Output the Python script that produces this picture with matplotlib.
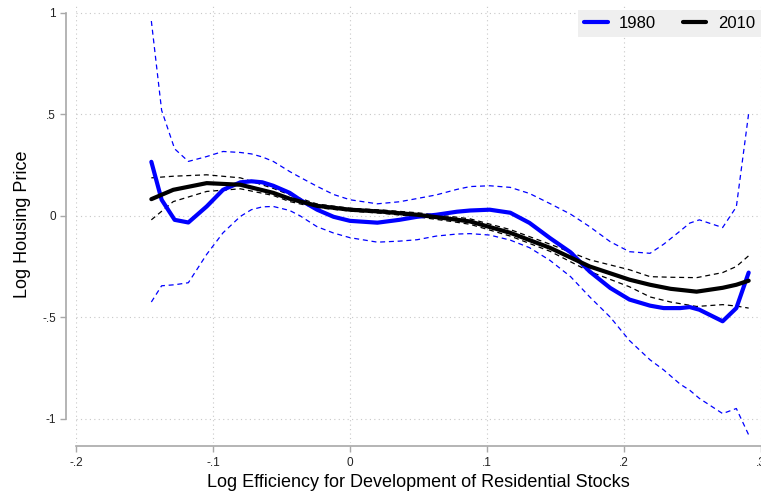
import matplotlib.pyplot as plt
import numpy as np

plt.rcParams['font.family'] = ['Liberation Sans', 'DejaVu Sans']

## === 1980: fit and 95% band ===
x80 = [-0.145, -0.1375, -0.128, -0.118, -0.1046, -0.0927, -0.08, -0.072, -0.064,
       -0.056, -0.044, -0.0365, -0.024, -0.012, 0.0, 0.02, 0.036, 0.049, 0.063,
       0.078, 0.0876, 0.102, 0.117, 0.131, 0.146, 0.161, 0.175, 0.19, 0.204,
       0.219, 0.229, 0.241, 0.248, 0.255, 0.272, 0.282, 0.291]
y80 = [0.266, 0.079, -0.02, -0.033, 0.046, 0.128, 0.165, 0.17, 0.165,
       0.148, 0.113, 0.079, 0.03, -0.005, -0.025, -0.034, -0.02, -0.005, 0.005,
       0.02, 0.026, 0.03, 0.015, -0.035, -0.11, -0.18, -0.275, -0.356, -0.413,
       -0.443, -0.455, -0.455, -0.45, -0.463, -0.52, -0.455, -0.28]
hi80 = [0.96, 0.52, 0.33, 0.268, 0.292, 0.317, 0.312, 0.305, 0.29,
        0.268, 0.218, 0.19, 0.145, 0.105, 0.079, 0.059, 0.069, 0.085, 0.103,
        0.13, 0.144, 0.148, 0.14, 0.11, 0.06, 0.008, -0.054, -0.128, -0.177,
        -0.185, -0.14, -0.075, -0.036, -0.02, -0.058, 0.044, 0.505]
lo80 = [-0.425, -0.345, -0.34, -0.33, -0.19, -0.084, -0.003, 0.03, 0.044,
        0.046, 0.026, 0.0, -0.054, -0.085, -0.108, -0.13, -0.125, -0.118, -0.1,
        -0.09, -0.088, -0.095, -0.12, -0.157, -0.22, -0.30, -0.40, -0.50, -0.615,
        -0.71, -0.76, -0.83, -0.86, -0.90, -0.975, -0.95, -1.08]

## === 2010: fit and 95% band ===
x10 = [-0.145, -0.129, -0.1046, -0.08, -0.056, -0.044, -0.024, 0.0, 0.024,
       0.049, 0.073, 0.0876, 0.117, 0.146, 0.175, 0.204, 0.219, 0.234, 0.253,
       0.272, 0.282, 0.291]
y10 = [0.082, 0.128, 0.161, 0.153, 0.113, 0.084, 0.049, 0.03, 0.02,
       0.005, -0.015, -0.028, -0.084, -0.158, -0.25, -0.315, -0.34, -0.36, -0.374,
       -0.355, -0.34, -0.32]
hi10 = [0.187, 0.195, 0.202, 0.187, 0.135, 0.103, 0.058, 0.037, 0.028,
        0.015, -0.003, -0.015, -0.068, -0.14, -0.217, -0.266, -0.30, -0.303, -0.305,
        -0.28, -0.25, -0.197]
lo10 = [-0.02, 0.07, 0.12, 0.133, 0.10, 0.07, 0.04, 0.023, 0.012,
        -0.005, -0.027, -0.042, -0.1, -0.175, -0.275, -0.35, -0.40, -0.425, -0.447,
        -0.438, -0.445, -0.455]

xticks = [-0.2, -0.1, 0, 0.1, 0.2, 0.3]
xlabs = ['-.2', '-.1', '0', '.1', '.2', '.3']
yticks = [-1, -0.5, 0, 0.5, 1]
ylabs = ['-1', '-.5', '0', '.5', '1']

blue = [0, 0, 1];  blk = [0, 0, 0];  lw = 3;  dlw = 0.9
dash = (0, (4, 3))

fig = plt.figure(figsize=(7.61, 4.95), dpi=100)
ax = fig.add_axes([76/761, 52/495, 685/761, 438/495])

ax.plot(x80, hi80, color=blue, linewidth=dlw, linestyle=dash)
ax.plot(x80, lo80, color=blue, linewidth=dlw, linestyle=dash)
ax.plot(x10, hi10, color=blk, linewidth=dlw, linestyle=dash)
ax.plot(x10, lo10, color=blk, linewidth=dlw, linestyle=dash)
l1, = ax.plot(x80, y80, color=blue, linewidth=lw, solid_joinstyle='round', solid_capstyle='round')
l2, = ax.plot(x10, y10, color=blk, linewidth=lw, solid_joinstyle='round', solid_capstyle='round')

ax.set_xlim(-0.2, 0.3)
ax.set_ylim(-1.12, 1.039)
ax.set_xticks(xticks, xlabs)
ax.set_yticks(yticks, ylabs)
ax.grid(True, color='#c8c8c8', linestyle=(0, (1, 3)), linewidth=0.8)

for s in ['top', 'right']:
    ax.spines[s].set_visible(False)
ax.spines['left'].set_position(('outward', 7))
ax.spines['bottom'].set_position(('outward', 2.5))
ax.spines['left'].set_bounds(-1, 1)
ax.spines['bottom'].set_bounds(-0.2, 0.3)
for s in ['left', 'bottom']:
    ax.spines[s].set_color('#a8a8a8')
    ax.spines[s].set_linewidth(1.2)
ax.tick_params(colors='#a8a8a8', labelcolor='#222222', labelsize=8.5, length=4, width=1)

ax.set_xlabel('Log Efficiency for Development of Residential Stocks', fontsize=13, labelpad=4)
ax.set_ylabel('Log Housing Price', fontsize=13, labelpad=8)

leg = fig.legend([l1, l2], ['1980', '2010'], loc='upper right',
                 bbox_to_anchor=(1.0, 1 - 10/495), ncol=2, fontsize=12,
                 frameon=True, fancybox=False, facecolor='#efefef', edgecolor='none',
                 framealpha=1, handlelength=1.4, columnspacing=1.6, handletextpad=0.7,
                 borderpad=0.35, borderaxespad=0)

fig.savefig('out.png', dpi=100)
